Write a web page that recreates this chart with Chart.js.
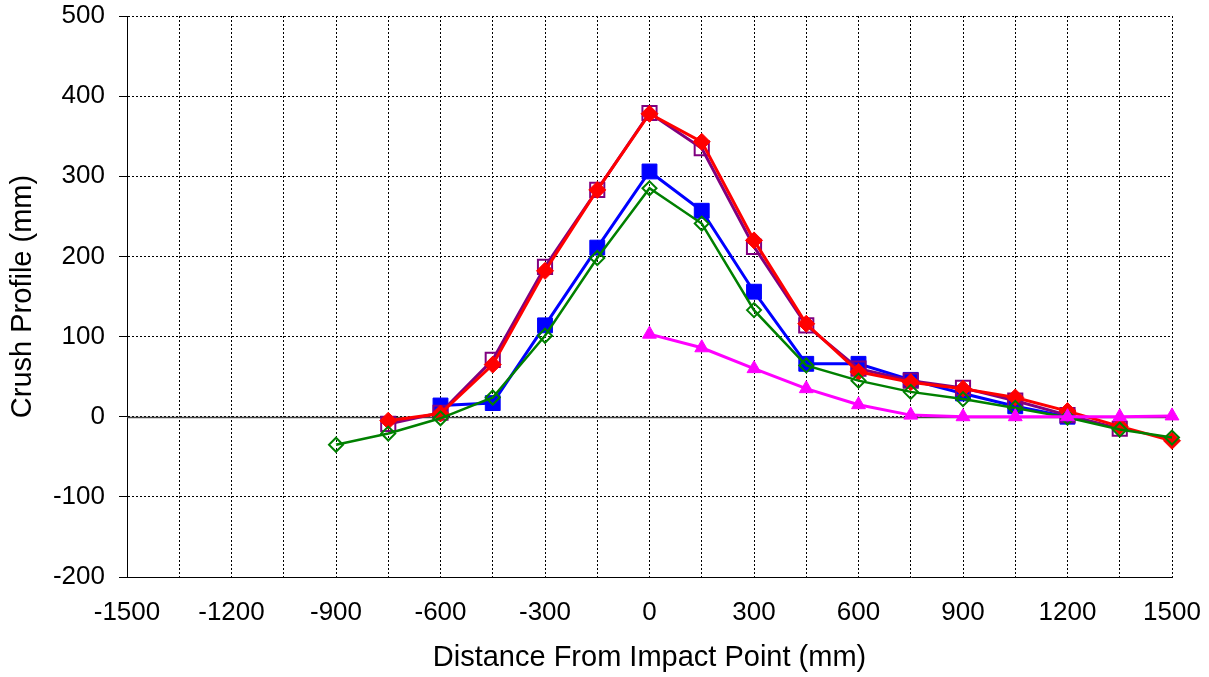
<!DOCTYPE html>
<html>
<head>
<meta charset="utf-8">
<script src="https://cdn.jsdelivr.net/npm/chart.js@4"></script>
<style>
  body { margin: 0; background: #fff; }
  #wrap { width: 1209px; height: 677px; }
</style>
</head>
<body>
<div id="wrap"><canvas id="crushChart" width="1209" height="677"></canvas></div>
<script>
// distance from impact point (mm)
const distances = [-900, -750, -600, -450, -300, -150, 0, 150, 300, 450, 600, 750, 900, 1050, 1200, 1350, 1500];

// crush profile (mm), null where the series has no point
const blueSeries    = [null, null, 14, 17, 114, 211, 306, 257, 156, 66, 66, 46, 29, 13, 0, null, null];
const purpleSeries  = [null, -9, 5, 71, 187, 283, 379, 335, 212, 114, 60, 45, 36, 20, 2, -15, null];
const redSeries     = [null, -5, 4, 65, 182, 283, 378, 343, 220, 116, 56, 43, 35, 24, 7, -12, -30];
const greenSeries   = [-35, -21, -2, 24, 101, 198, 285, 241, 133, 64, 45, 31, 22, 11, -1, -16, -26];
const magentaSeries = [null, null, null, null, null, null, 103, 86, 60, 35, 15, 2, 0, 0, 0, 0, 1];

const xLabelStep = 300;

function toPoints(values) {
  return distances.map((d, i) => ({ x: d, y: values[i] })).filter(p => p.y !== null);
}

// solid line at zero crush
const zeroLine = {
  id: 'zeroLine',
  beforeDatasetsDraw(chart) {
    const { ctx, chartArea, scales } = chart;
    const y = Math.round(scales.y.getPixelForValue(0)) + 0.5;
    ctx.save();
    ctx.strokeStyle = '#444';
    ctx.lineWidth = 1.5;
    ctx.beginPath();
    ctx.moveTo(chartArea.left, y);
    ctx.lineTo(chartArea.right, y);
    ctx.stroke();
    ctx.restore();
  }
};

const tickFont = { family: 'Liberation Sans, Arial, sans-serif', size: 26 };
const titleFont = { family: 'Liberation Sans, Arial, sans-serif', size: 29 };

const ctx = document.getElementById('crushChart').getContext('2d');
new Chart(ctx, {
  type: 'line',
  data: {
    datasets: [
      {
        label: 'Series 5',
        data: toPoints(magentaSeries),
        borderColor: '#ff00ff', backgroundColor: '#ff00ff',
        borderWidth: 3, pointStyle: 'triangle', pointRadius: 8, pointBorderWidth: 1
      },
      {
        label: 'Series 4',
        data: toPoints(greenSeries),
        borderColor: '#008000', backgroundColor: 'rgba(0,0,0,0)',
        borderWidth: 2.5, pointStyle: 'rectRot', pointRadius: 7, pointBorderWidth: 2
      },
      {
        label: 'Series 3',
        data: toPoints(redSeries),
        borderColor: '#ff0000', backgroundColor: '#ff0000',
        borderWidth: 3, pointStyle: 'rectRot', pointRadius: 8.5, pointBorderWidth: 1
      },
      {
        label: 'Series 2',
        data: toPoints(purpleSeries),
        borderColor: '#800080', backgroundColor: 'rgba(0,0,0,0)',
        borderWidth: 3, pointStyle: 'rect', pointRadius: 10, pointBorderWidth: 2
      },
      {
        label: 'Series 1',
        data: toPoints(blueSeries),
        borderColor: '#0000ff', backgroundColor: '#0000ff',
        borderWidth: 3, pointStyle: 'rect', pointRadius: 10.5, pointBorderWidth: 1
      }
    ]
  },
  options: {
    responsive: false,
    animation: false,
    clip: false,
    elements: { line: { tension: 0, fill: false } },
    layout: { padding: { top: 16, right: 37, left: 0, bottom: 0 } },
    plugins: { legend: { display: false }, tooltip: { enabled: false } },
    scales: {
      x: {
        type: 'linear',
        min: -1500, max: 1500,
        afterFit: (scale) => {
          scale.height = 100;
          scale.paddingLeft = 0;
          scale.paddingRight = 0;
        },
        ticks: {
          stepSize: 150, autoSkip: false, maxRotation: 0, padding: 20,
          color: '#000', font: tickFont,
          callback: (v) => (v % xLabelStep === 0 ? String(v) : '')
        },
        grid: { color: '#000', lineWidth: 1, drawTicks: false },
        border: { display: true, color: '#000', width: 1, dash: [2, 2] },
        title: {
          display: true, text: 'Distance From Impact Point (mm)',
          color: '#000', font: titleFont, padding: { top: 0, bottom: 2 }
        }
      },
      y: {
        min: -200, max: 500,
        afterFit: (scale) => {
          scale.width = 127;
          scale.paddingTop = 0;
          scale.paddingBottom = 0;
        },
        ticks: { stepSize: 100, padding: 14, color: '#000', font: tickFont },
        grid: { color: '#000', lineWidth: 1, drawTicks: true, tickLength: 8, tickColor: '#000' },
        border: { display: true, color: '#000', width: 1, dash: [2, 2] },
        title: {
          display: true, text: 'Crush Profile (mm)',
          color: '#000', font: titleFont, padding: { top: 6, bottom: 0 }
        }
      }
    }
  },
  plugins: [zeroLine]
});
</script>
</body>
</html>
